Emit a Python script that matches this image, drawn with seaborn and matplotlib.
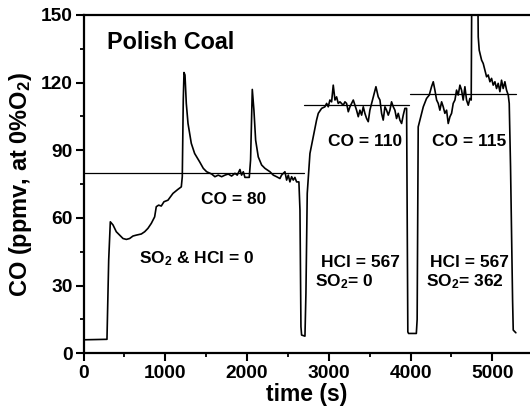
import numpy as np
import pandas as pd
import matplotlib
matplotlib.use("Agg")
import matplotlib.pyplot as plt
from matplotlib.ticker import MultipleLocator
import seaborn as sns

# CO trace, one array pair per run (time in s, CO in ppmv at 0% O2)
run1_t = [20, 287, 308, 328, 361, 401, 442, 483, 524, 564, 605, 646, 707, 748, 788, 829, 870,
          890, 919, 951, 984, 1033, 1094, 1155, 1196, 1208, 1220, 1229, 1241, 1257, 1278, 1318,
          1359, 1420, 1465, 1506, 1567, 1607, 1648, 1689, 1730, 1770, 1811, 1852, 1880, 1913,
          1933, 1954, 1974, 2027, 2043, 2064, 2084, 2105, 2137, 2178, 2219, 2280, 2321, 2361,
          2402, 2422, 2463, 2484, 2504, 2524, 2545, 2565, 2585, 2606, 2634]
run1_co = [6.0, 6.2, 41.3, 58.3, 56.9, 53.9, 52.4, 50.9, 50.5, 50.9, 52.0, 52.4, 52.9, 53.9, 55.4,
           57.6, 60.5, 65.0, 65.7, 65.3, 67.2, 67.9, 70.9, 72.7, 73.8, 78.3, 112.3, 124.5, 123.4,
           110.8, 101.9, 93.1, 88.6, 84.9, 82.0, 80.5, 79.5, 78.3, 79.0, 78.3, 79.0, 79.5, 78.6,
           79.8, 79.0, 81.5, 79.0, 80.5, 78.0, 78.0, 85.7, 117.0, 107.8, 94.5, 87.1, 83.5, 82.0,
           80.5, 79.0, 78.3, 77.5, 79.0, 80.5, 76.8, 79.0, 76.0, 78.3, 76.8, 78.0, 76.0, 76.0]

run2_t = [2647, 2659, 2667, 2708, 2720, 2736, 2769, 2810, 2850, 2871, 2912, 2952, 2973, 2993,
          3013, 3034, 3054, 3075, 3095, 3115, 3136, 3176, 3197, 3217, 3238, 3258, 3299, 3319,
          3339, 3360, 3380, 3401, 3421, 3441, 3462, 3482, 3502, 3523, 3543, 3576, 3604, 3625,
          3645, 3665, 3686, 3706, 3727, 3747, 3767, 3788, 3808, 3828, 3849, 3869, 3890, 3910,
          3930, 3951]
run2_co = [63.5, 11.8, 8.1, 7.6, 26.6, 70.9, 88.6, 96.0, 103.4, 106.4, 108.6, 109.3, 110.8,
           109.3, 112.3, 111.5, 118.9, 112.3, 113.7, 110.8, 111.5, 110.0, 111.5, 110.8, 107.1,
           109.3, 112.3, 110.0, 107.8, 104.9, 107.8, 105.6, 109.3, 106.4, 104.1, 102.7, 107.8,
           110.8, 113.7, 118.2, 113.7, 112.3, 106.4, 103.4, 109.3, 107.8, 105.6, 107.8, 111.5,
           109.3, 107.8, 104.1, 106.4, 103.4, 101.9, 105.6, 108.6, 108.6]

run3_t = [3959, 3966, 3975, 4070, 4080, 4093, 4114, 4155, 4195, 4228, 4256, 4277, 4297, 4318,
          4338, 4358, 4379, 4399, 4419, 4440, 4460, 4481, 4501, 4521, 4542, 4562, 4582, 4603,
          4623, 4643, 4664, 4684, 4705, 4725, 4741, 4750, 4785, 4822, 4827, 4839, 4868, 4888,
          4908, 4929, 4949, 4970, 4990, 5010, 5031, 5051, 5071, 5092, 5112, 5132, 5153, 5173,
          5194, 5206, 5222, 5247, 5255, 5287]
run3_co = [60.0, 9.5, 8.8, 8.8, 15.0, 100.4, 103.4, 109.3, 113.0, 114.5, 118.2, 120.4, 116.7,
           112.3, 110.8, 107.8, 111.5, 109.3, 106.4, 107.8, 101.9, 104.9, 106.4, 110.8, 112.3,
           116.7, 114.5, 118.9, 116.7, 112.3, 118.2, 112.3, 110.0, 113.0, 112.3, 175.0, 185.0,
           160.0, 140.3, 134.4, 130.0, 128.5, 125.6, 122.6, 123.4, 120.4, 121.9, 118.9, 120.4,
           117.4, 119.7, 116.0, 121.1, 117.4, 120.4, 116.7, 114.5, 110.8, 82.7, 23.6, 10.3, 9.1]

# Mean CO level of each run
level_co = [80, 110, 115]
level_start = [0, 2696, 3991]
level_end = [2696, 3983, 5287]

trace = pd.DataFrame({"time": run1_t + run2_t + run3_t,
                      "co": run1_co + run2_co + run3_co})
levels = pd.DataFrame({
    "time": [v for pair in zip(level_start, level_end) for v in pair],
    "co": [v for c in level_co for v in (c, c)],
    "run": [i for i in range(len(level_co)) for _ in (0, 1)],
})

sns.set_style("ticks")
plt.rcParams["font.family"] = ["Liberation Sans", "DejaVu Sans"]
plt.rcParams["font.weight"] = "bold"
plt.rcParams["text.color"] = "black"
plt.rcParams["axes.labelcolor"] = "black"
plt.rcParams["xtick.color"] = "black"
plt.rcParams["ytick.color"] = "black"
plt.rcParams["axes.edgecolor"] = "black"
plt.rcParams["mathtext.fontset"] = "custom"
plt.rcParams["mathtext.rm"] = "Liberation Sans:bold"
plt.rcParams["mathtext.it"] = "Liberation Sans:bold"
plt.rcParams["mathtext.bf"] = "Liberation Sans:bold"
plt.rcParams["mathtext.default"] = "rm"

W, H = 530, 418
fig = plt.figure(figsize=(W / 100, H / 100), dpi=100)
x0, x1, y0, y1 = 83.5, 530, 15, 353.3
ax = fig.add_axes([x0 / W, 1 - y1 / H, (x1 - x0) / W, (y1 - y0) / H])

sns.lineplot(data=trace, x="time", y="co", sort=False, estimator=None,
             color="black", lw=1.2, ax=ax)
sns.lineplot(data=levels, x="time", y="co", units="run", estimator=None,
             color="black", lw=0.9, ax=ax)

ax.set_xlim(0, 5460)
ax.set_ylim(0, 150)
ax.xaxis.set_major_locator(MultipleLocator(1000))
ax.xaxis.set_minor_locator(MultipleLocator(500))
ax.yaxis.set_major_locator(MultipleLocator(30))
ax.yaxis.set_minor_locator(MultipleLocator(15))
ax.tick_params(which="major", direction="out", length=5.5, width=1.5,
               labelsize=13.8, pad=2, color="black", labelcolor="black")
ax.tick_params(which="minor", direction="out", length=3, width=1.3, color="black")
ax.tick_params(axis="x", which="major", pad=3)
for lab in ax.get_xticklabels() + ax.get_yticklabels():
    lab.set_fontweight("bold")

for side in ("left", "bottom", "top"):
    ax.spines[side].set_visible(True)
    ax.spines[side].set_linewidth(1.6)
    ax.spines[side].set_color("black")
ax.spines["right"].set_visible(False)

ax.set_xlabel("time (s)", fontsize=16.5, fontweight="bold", labelpad=1, color="black")
ax.set_ylabel("CO (ppmv, at 0%O$_2$)", fontsize=17, fontweight="bold", labelpad=5,
              color="black")

txt = dict(fontsize=12.5, fontweight="bold", color="black")
ax.text(284, 134.8, "Polish Coal", fontsize=16.8, fontweight="bold", color="black",
        ha="left", va="baseline")
ax.text(1840, 66.2, "CO = 80", ha="center", va="baseline", **txt)
ax.text(1379, 39.9, "SO$_2$ & HCl = 0", ha="center", va="baseline", **txt)
ax.text(3447, 92.0, "CO = 110", ha="center", va="baseline", **txt)
ax.text(4713, 92.0, "CO = 115", ha="center", va="baseline", **txt)
ax.text(2900, 38.4, "HCl = 567", ha="left", va="baseline", **txt)
ax.text(2830, 29.5, "SO$_2$= 0", ha="left", va="baseline", **txt)
ax.text(4236, 38.4, "HCl = 567", ha="left", va="baseline", **txt)
ax.text(4183, 29.5, "SO$_2$= 362", ha="left", va="baseline", **txt)

fig.savefig("out.png", dpi=100, facecolor="white")
